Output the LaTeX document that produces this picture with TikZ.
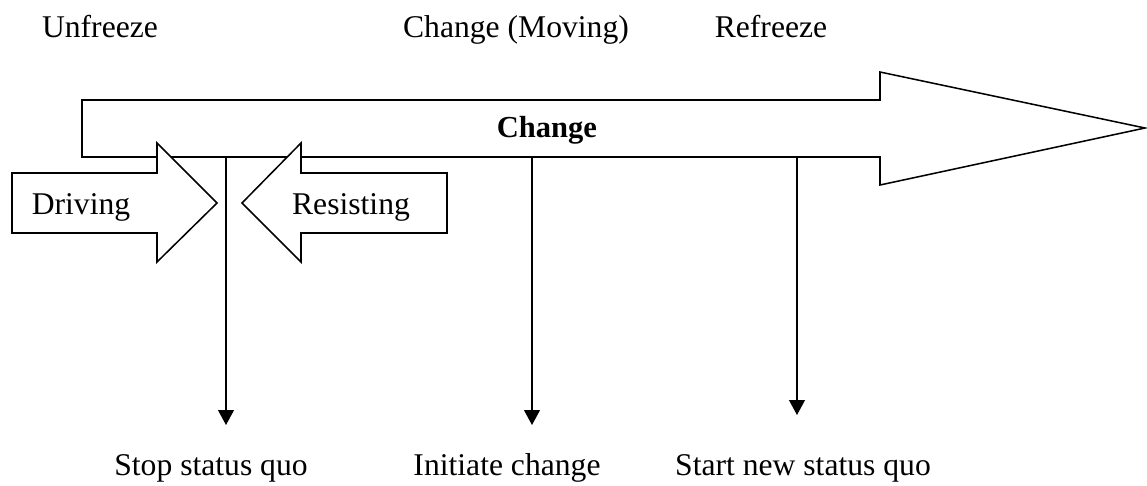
\documentclass[tikz,border=0pt]{standalone}
\usepackage{fontspec}
\setmainfont{Liberation Serif}
\usetikzlibrary{arrows.meta}

\begin{document}
\begin{tikzpicture}[x=0.01612cm,y=-0.01612cm,line width=0.7pt,
    font=\fontsize{14.5}{17}\selectfont,
    every node/.style={anchor=base},
    blockarrow/.style={draw,fill=white,line join=miter},
    drop/.style={-{Triangle[width=7.2pt,length=6.8pt]}}]
      \useasboundingbox (0,0) rectangle (1147,485);
      % phase titles
      \node (unfreeze) at (100,37) {Unfreeze};
      \node (moving) at (516,37) {Change (Moving)};
      \node (refreeze) at (771,37) {Refreeze};
      % the big change arrow
      \draw[blockarrow] (82,100) -- (880,100) -- (880,72) -- (1145,128)
        -- (880,185) -- (880,157) -- (82,157) -- cycle;
      \node[font=\fontsize{14}{16}\selectfont\bfseries] (change) at (547,137) {Change};
      % forces
      \draw[blockarrow] (12,173) -- (157,173) -- (157,143) -- (217,203)
        -- (157,262) -- (157,233) -- (12,233) -- cycle;
      \draw[blockarrow] (447,173) -- (301,173) -- (301,143) -- (242,203)
        -- (301,262) -- (301,233) -- (447,233) -- cycle;
      \node (driving) at (81,214) {Driving};
      \node (resisting) at (351,214) {Resisting};
      % results
      \node (stop) at (211,475) {Stop status quo};
      \node (initiate) at (507,475) {Initiate change};
      \node (start) at (803,475) {Start new status quo};
      \foreach \n/\x/\y in {a/226/425,b/532/425,c/797/415}
      {
        \coordinate (top\n) at (\x,157);
        \coordinate (end\n) at (\x,\y);
        \draw[drop] (top\n) -- (end\n);
      }
    \end{tikzpicture}
\end{document}
